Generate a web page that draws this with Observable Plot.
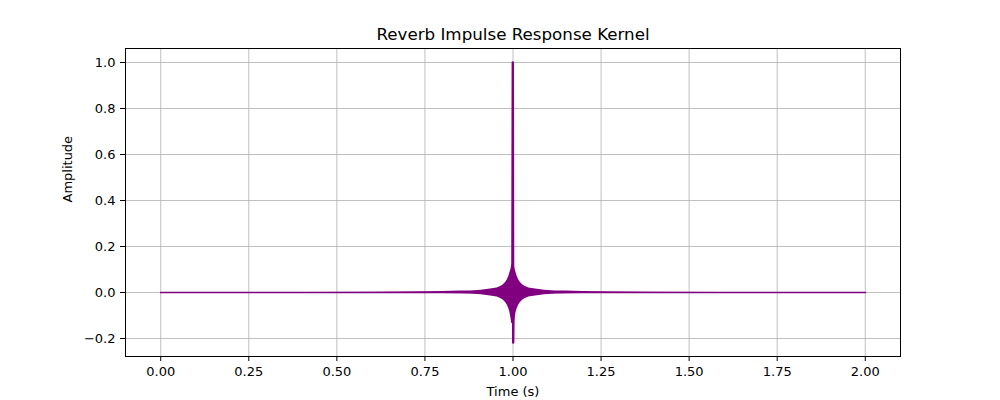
<!DOCTYPE html>
<html>
<head>
<meta charset="utf-8">
<script src="https://cdn.jsdelivr.net/npm/d3@7"></script>
<script src="https://cdn.jsdelivr.net/npm/@observablehq/plot@0.6"></script>
<style>
  body { margin: 0; background: white; }
</style>
</head>
<body>
<div id="chart"></div>
<script>
// tick positions
const xTicks = [0, 0.25, 0.5, 0.75, 1.0, 1.25, 1.5, 1.75, 2.0]
const yTicks = [-0.2, 0, 0.2, 0.4, 0.6, 0.8, 1.0]

// main trace: flat baseline over the whole kernel
const traceTime = [0, 2.0]
const traceValue = [0, 0]

// the direct impulse at t = 1 s
const spikeTime = [0.9982, 0.9994, 1.0006, 1.0018]
const spikeValue = [0, 1.0, -0.2174, 0]

// envelope of the dense reverb tail around the impulse
const envTime = [0.00, 0.40, 0.60, 0.68, 0.75, 0.80, 0.85, 0.88, 0.91, 0.936, 0.955, 0.965, 0.972, 0.979, 0.984, 0.988, 0.991, 0.994, 0.9965,
  1.0,
  1.0035, 1.006, 1.009, 1.012, 1.016, 1.021, 1.028, 1.035, 1.045, 1.064, 1.09, 1.12, 1.15, 1.20, 1.25, 1.32, 1.40, 1.60, 2.00]
const envHigh = [0.0002, 0.0005, 0.001, 0.002, 0.003, 0.004, 0.006, 0.007, 0.010, 0.015, 0.020, 0.026, 0.033, 0.043, 0.055, 0.07, 0.085, 0.10, 0.12,
  0.12,
  0.12, 0.10, 0.085, 0.07, 0.055, 0.043, 0.033, 0.026, 0.020, 0.015, 0.010, 0.007, 0.006, 0.004, 0.003, 0.002, 0.001, 0.0005, 0.0002]
const envLow = [-0.0002, -0.0005, -0.001, -0.002, -0.003, -0.004, -0.006, -0.007, -0.010, -0.015, -0.020, -0.026, -0.033, -0.043, -0.055, -0.07, -0.085, -0.11, -0.135,
  -0.135,
  -0.135, -0.11, -0.085, -0.07, -0.055, -0.043, -0.033, -0.026, -0.020, -0.015, -0.010, -0.007, -0.006, -0.004, -0.003, -0.002, -0.001, -0.0005, -0.0002]

const trace = traceTime.map((t, i) => ({t, v: traceValue[i]}))
const spike = spikeTime.map((t, i) => ({t, v: spikeValue[i]}))
const env = envTime.map((t, i) => ({t, hi: envHigh[i], lo: envLow[i]}))

const grid = {stroke: '#b0b0b0', strokeOpacity: 1, strokeWidth: 0.8}

let chart = Plot.plot({
  width: 1000,
  height: 400,
  marginLeft: 125,
  marginRight: 100,
  marginTop: 48,
  marginBottom: 44,
  x: {domain: [-0.1, 2.1]},
  y: {domain: [-0.2783, 1.0609]},
  style: {
    fontFamily: 'DejaVu Sans',
    fontSize: '13px',
    color: 'black',
    background: 'white'
  },
  marks: [
    Plot.gridX(xTicks, grid),
    Plot.gridY(yTicks, grid),
    Plot.areaY(env, {x: 't', y1: 'lo', y2: 'hi', fill: 'purple'}),
    Plot.line(trace, {x: 't', y: 'v', stroke: 'purple', strokeWidth: 1.7}),
    Plot.line(spike, {x: 't', y: 'v', stroke: 'purple', strokeWidth: 2.4}),
    Plot.frame({stroke: 'black', strokeWidth: 1}),
    Plot.axisX(xTicks, {tickFormat: d3.format('.2f'), tickSize: 5, tickPadding: 5, label: null}),
    Plot.axisY(yTicks, {tickFormat: d3.format('.1f'), tickSize: 5, tickPadding: 5, label: null}),
    Plot.text(['Time (s)'], {frameAnchor: 'bottom', lineAnchor: 'middle', dy: 35, fontSize: 13}),
    Plot.text(['Amplitude'], {frameAnchor: 'left', dx: -58, rotate: -90, fontSize: 13}),
    Plot.text(['Reverb Impulse Response Kernel'], {frameAnchor: 'top', lineAnchor: 'middle', dy: -14, fontSize: 16.7})
  ]
})

d3.select('#chart').append(() => chart)
</script>
</body>
</html>
